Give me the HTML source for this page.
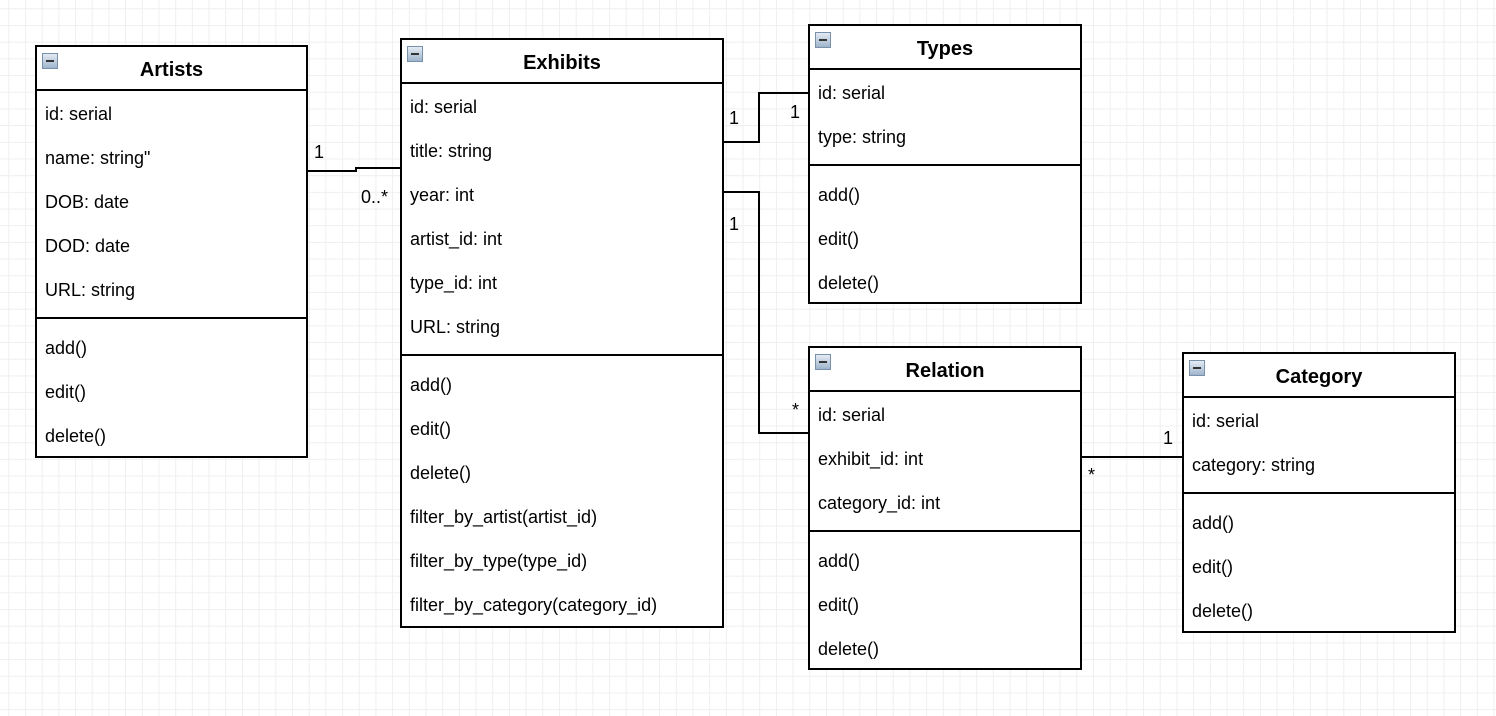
<!DOCTYPE html><html><head><style>
body{margin:0;width:1496px;height:716px;overflow:hidden;background:#fff;
background-image:linear-gradient(#efefef 1px,transparent 1px),linear-gradient(90deg,#efefef 1px,transparent 1px);
background-size:16.7px 16.7px;background-position:8.3px 8.3px;font-family:"Liberation Sans",sans-serif;}
.b{position:absolute;border:2px solid #000;background:#fff;box-sizing:border-box;}
.h{height:44px;border-bottom:2px solid #000;box-sizing:border-box;text-align:center;font-weight:bold;font-size:20px;line-height:46px;position:relative}
.h i{position:absolute;left:5px;top:6px;width:16px;height:16px;background:linear-gradient(#e4ebf3,#9fb4cc);border:1px solid #7890aa;box-sizing:border-box}
.h i:after{content:"";position:absolute;left:3px;top:6px;width:8px;height:2px;background:#333}
.r{height:44px;line-height:46px;padding-left:8px;font-size:18px}
.s{border-top:2px solid #000;margin-top:6px;padding-top:6px}
.l{position:absolute;font-size:18px}
</style></head><body>
<svg style="position:absolute;left:0;top:0" width="1496" height="716"><g stroke="#000" stroke-width="2" fill="none">
<polyline points="307,171 356,171 356,168 401,168"/>
<polyline points="723,142 759,142 759,93 809,93"/>
<polyline points="723,192 759,192 759,433 809,433"/>
<polyline points="1081,457 1183,457"/></g></svg>
<div class="l" style="left:314px;top:142px">1</div>
<div class="l" style="left:361px;top:187px">0..*</div>
<div class="l" style="left:729px;top:108px">1</div>
<div class="l" style="left:790px;top:102px">1</div>
<div class="l" style="left:729px;top:214px">1</div>
<div class="l" style="left:792px;top:400px">*</div>
<div class="l" style="left:1088px;top:465px">*</div>
<div class="l" style="left:1163px;top:428px">1</div>

<div class="b" style="left:35px;top:45px;width:273px;height:413px">
<div class="h"><i></i>Artists</div>
<div class="r">id: serial</div><div class="r">name: string"</div><div class="r">DOB: date</div><div class="r">DOD: date</div><div class="r">URL: string</div>
<div class="s"><div class="r">add()</div><div class="r">edit()</div><div class="r">delete()</div></div></div>

<div class="b" style="left:400px;top:38px;width:324px;height:590px">
<div class="h"><i></i>Exhibits</div>
<div class="r">id: serial</div><div class="r">title: string</div><div class="r">year: int</div><div class="r">artist_id: int</div><div class="r">type_id: int</div><div class="r">URL: string</div>
<div class="s"><div class="r">add()</div><div class="r">edit()</div><div class="r">delete()</div><div class="r">filter_by_artist(artist_id)</div><div class="r">filter_by_type(type_id)</div><div class="r">filter_by_category(category_id)</div></div></div>

<div class="b" style="left:808px;top:24px;width:274px;height:280px">
<div class="h"><i></i>Types</div>
<div class="r">id: serial</div><div class="r">type: string</div>
<div class="s"><div class="r">add()</div><div class="r">edit()</div><div class="r">delete()</div></div></div>

<div class="b" style="left:808px;top:346px;width:274px;height:324px">
<div class="h"><i></i>Relation</div>
<div class="r">id: serial</div><div class="r">exhibit_id: int</div><div class="r">category_id: int</div>
<div class="s"><div class="r">add()</div><div class="r">edit()</div><div class="r">delete()</div></div></div>

<div class="b" style="left:1182px;top:352px;width:274px;height:281px">
<div class="h"><i></i>Category</div>
<div class="r">id: serial</div><div class="r">category: string</div>
<div class="s"><div class="r">add()</div><div class="r">edit()</div><div class="r">delete()</div></div></div>
</body></html>
